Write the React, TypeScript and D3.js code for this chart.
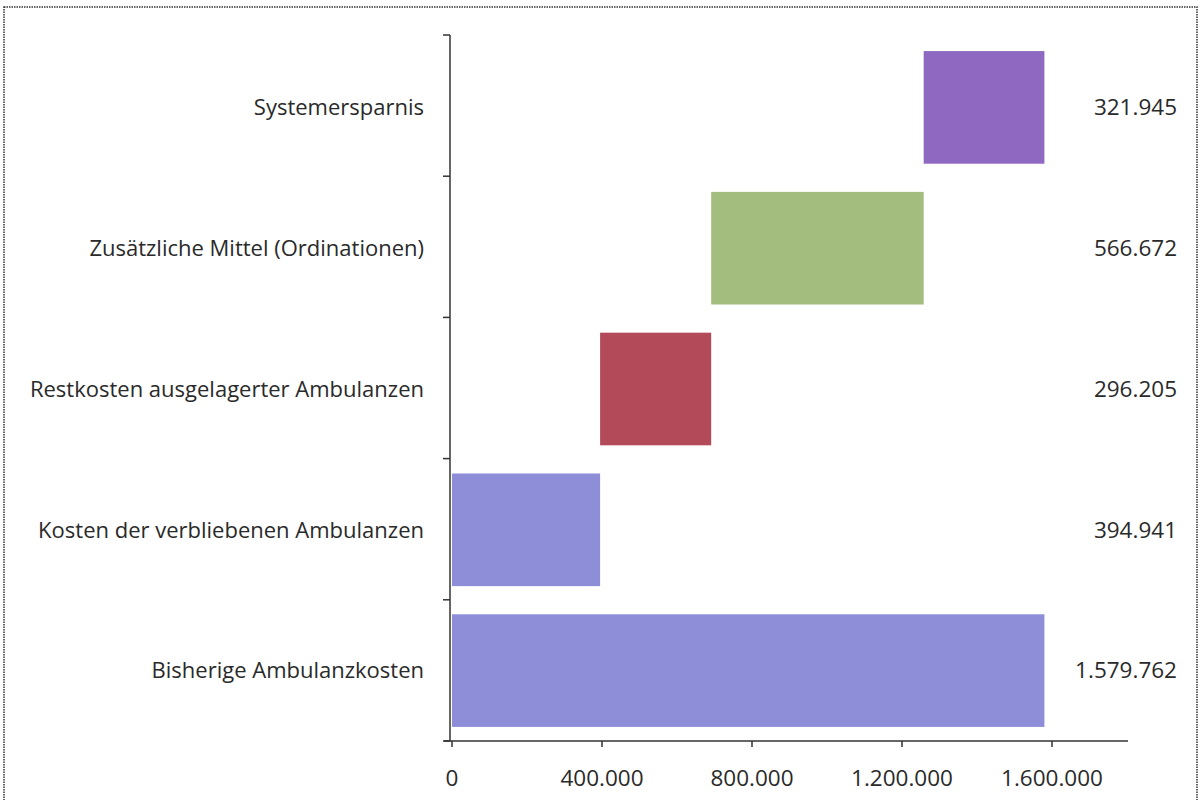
import React from "react";
import * as d3 from "d3";

const categories = [
  "Bisherige Ambulanzkosten",
  "Kosten der verbliebenen Ambulanzen",
  "Restkosten ausgelagerter Ambulanzen",
  "Zusätzliche Mittel (Ordinationen)",
  "Systemersparnis",
];
const values = [1579762, 394941, 296205, 566672, 321945];
const valueLabels = ["1.579.762", "394.941", "296.205", "566.672", "321.945"];
const colors = ["#8e8ed8", "#8e8ed8", "#b24a5a", "#a3bd7e", "#8f68c2"];
const xTicks = [0, 400000, 800000, 1200000, 1600000];
const xTickLabels = ["0", "400.000", "800.000", "1.200.000", "1.600.000"];

const W = 1204;
const H = 800;
const FONT = "'Open Sans', Lato, sans-serif";
const FS_CAT = 22;
const FS_NUM = 22.5;

export default function App() {
  const x = d3.scaleLinear().domain([0, 1600000]).range([452, 1052]);
  const y = d3
    .scaleBand<string>()
    .domain([...categories].reverse())
    .range([37, 741])
    .paddingInner(0.2)
    .paddingOuter(0.1);

  const starts: number[] = [];
  let cum = 0;
  values.forEach((v, i) => {
    if (i < 2) {
      starts.push(0);
      if (i === 1) cum = v;
    } else {
      starts.push(cum);
      cum += v;
    }
  });

  const boundaries = d3.range(categories.length + 1).map((i) => 35 + i * ((741 - 35) / categories.length));

  return (
    <svg
      width={W}
      height={H}
      style={{ position: "absolute", left: 0, top: 0, background: "#fff" }}
      fontFamily={FONT}
    >
      <rect x={4} y={7} width={1193} height={800} fill="none" stroke="#333" strokeWidth={1.5} strokeDasharray="1.5,1" />
      {categories.map((c, i) => (
        <rect
          key={c}
          x={x(starts[i])}
          y={y(c)!}
          width={x(starts[i] + values[i]) - x(starts[i])}
          height={y.bandwidth()}
          fill={colors[i]}
        />
      ))}
      <line x1={450} x2={450} y1={35} y2={741} stroke="#333" strokeWidth={1.5} />
      {boundaries.map((b, i) => (
        <line key={i} x1={443} x2={450} y1={b} y2={b} stroke="#333" strokeWidth={1.5} />
      ))}
      <line x1={444} x2={1128} y1={741} y2={741} stroke="#333" strokeWidth={1.5} />
      {xTicks.map((t, i) => (
        <g key={t}>
          <line x1={x(t)} x2={x(t)} y1={741} y2={747} stroke="#333" strokeWidth={1.5} />
          <text x={x(t)} y={786} textAnchor="middle" fontSize={FS_NUM} fill="#2a2a2a">
            {xTickLabels[i]}
          </text>
        </g>
      ))}
      {categories.map((c, i) => (
        <g key={c + "l"}>
          <text
            x={424}
            y={y(c)! + y.bandwidth() / 2}
            dy="0.35em"
            textAnchor="end"
            fontSize={FS_CAT}
            fill="#2a2a2a"
          >
            {c}
          </text>
          <text
            x={1177}
            y={y(c)! + y.bandwidth() / 2}
            dy="0.35em"
            textAnchor="end"
            fontSize={FS_NUM}
            fill="#2a2a2a"
          >
            {valueLabels[i]}
          </text>
        </g>
      ))}
    </svg>
  );
}
